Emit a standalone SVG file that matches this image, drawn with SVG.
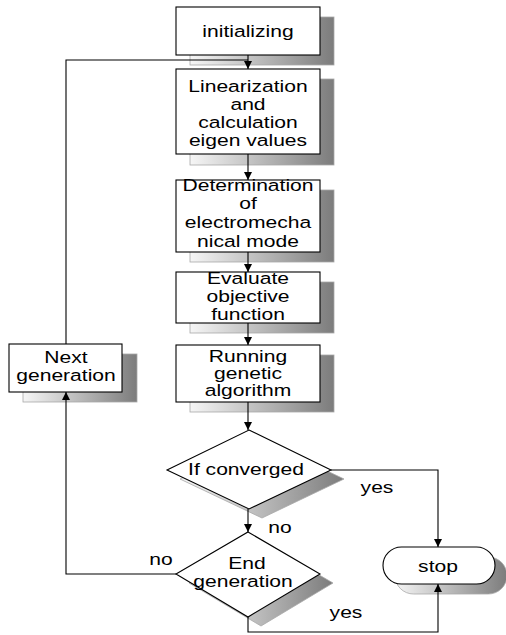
<svg xmlns="http://www.w3.org/2000/svg" width="506" height="635" viewBox="0 0 506 635">
<defs>
<linearGradient id="sh" x1="0" y1="0" x2="1" y2="0">
<stop offset="0" stop-color="#f6f6f6"/>
<stop offset="1" stop-color="#7c7c7c"/>
</linearGradient>
<marker id="ar" markerUnits="userSpaceOnUse" markerWidth="8" markerHeight="8" viewBox="0 0 8 8" refX="8" refY="4" orient="auto">
<path d="M0,0 L8,4 L0,8 Z" fill="#000"/>
</marker>
</defs>
<style>
.shd{fill:url(#sh);stroke:#a8a8a8;stroke-width:0.8}
.box{fill:#fff;stroke:#000;stroke-width:1.1}
.t{font-family:"Liberation Sans",Arial,sans-serif;font-size:17px;text-anchor:middle;fill:#000}
.ln{fill:none;stroke:#000;stroke-width:1.1}
</style>
<rect width="506" height="635" fill="#fff"/>

<g id="initializing">
<rect class="shd" x="190" y="17" width="144" height="48"/>
<rect class="box" x="176" y="7" width="144" height="48"/>
<text class="t" transform="translate(248 37) scale(1.24 1)">initializing</text>
</g>

<g id="linearization">
<rect class="shd" x="190" y="79" width="144" height="86"/>
<rect class="box" x="176" y="69" width="144" height="85"/>
<text class="t" transform="translate(248 92) scale(1.24 1)">Linearization</text>
<text class="t" transform="translate(248 110) scale(1.24 1)">and</text>
<text class="t" transform="translate(248 128) scale(1.24 1)">calculation</text>
<text class="t" transform="translate(248 146) scale(1.24 1)">eigen values</text>
</g>

<g id="determination">
<rect class="shd" x="190" y="190" width="144" height="72"/>
<rect class="box" x="176" y="180" width="144" height="72"/>
<text class="t" transform="translate(248 191) scale(1.24 1)">Determination</text>
<text class="t" transform="translate(248 209) scale(1.24 1)">of</text>
<text class="t" transform="translate(248 228) scale(1.24 1)">electromecha</text>
<text class="t" transform="translate(248 247) scale(1.24 1)">nical mode</text>
</g>

<g id="evaluate">
<rect class="shd" x="190" y="282" width="144" height="51"/>
<rect class="box" x="176" y="272" width="144" height="51"/>
<text class="t" transform="translate(248 284) scale(1.24 1)">Evaluate</text>
<text class="t" transform="translate(248 302) scale(1.24 1)">objective</text>
<text class="t" transform="translate(248 320) scale(1.24 1)">function</text>
</g>

<g id="running">
<rect class="shd" x="190" y="355" width="144" height="57"/>
<rect class="box" x="176" y="345" width="144" height="57"/>
<text class="t" transform="translate(248 362) scale(1.24 1)">Running</text>
<text class="t" transform="translate(248 379) scale(1.24 1)">genetic</text>
<text class="t" transform="translate(248 396) scale(1.24 1)">algorithm</text>
</g>

<g id="next-generation">
<rect class="shd" x="23" y="354" width="114" height="48"/>
<rect class="box" x="9" y="344" width="113" height="48"/>
<text class="t" transform="translate(66 363) scale(1.24 1)">Next</text>
<text class="t" transform="translate(66 381) scale(1.24 1)">generation</text>
</g>

<g id="if-converged">
<polygon class="shd" points="262,440 344,479 262,518 180,479"/>
<polygon class="box" points="249,430 331,470 249,509 167,470"/>
<text class="t" transform="translate(246 475) scale(1.24 1)">If converged</text>
</g>

<g id="end-generation">
<polygon class="shd" points="261,541 333,583 261,626 189,583"/>
<polygon class="box" points="248,532 320,574 248,617 176,574"/>
<text class="t" transform="translate(247 569) scale(1.24 1)">End</text>
<text class="t" transform="translate(243 587) scale(1.24 1)">generation</text>
</g>

<g id="stop">
<rect class="shd" x="395" y="557" width="112" height="37" rx="18.5"/>
<rect class="box" x="383" y="547" width="112" height="37" rx="18.5"/>
<text class="t" transform="translate(438 572) scale(1.24 1)">stop</text>
</g>

<g id="connectors">
<line class="ln" x1="248" y1="55" x2="248" y2="69" marker-end="url(#ar)"/>
<line class="ln" x1="248" y1="154" x2="248" y2="180" marker-end="url(#ar)"/>
<line class="ln" x1="248" y1="252" x2="248" y2="272" marker-end="url(#ar)"/>
<line class="ln" x1="248" y1="323" x2="248" y2="345" marker-end="url(#ar)"/>
<line class="ln" x1="248" y1="402" x2="248" y2="430" marker-end="url(#ar)"/>
<line class="ln" x1="248" y1="509" x2="248" y2="532" marker-end="url(#ar)"/>
<polyline class="ln" points="331,470 438,470 438,547" marker-end="url(#ar)"/>
<polyline class="ln" points="248,617 248,632 438,632 438,584" marker-end="url(#ar)"/>
<polyline class="ln" points="176,574 66,574 66,392" marker-end="url(#ar)"/>
<polyline class="ln" points="66,344 66,60 248,60"/>
<text class="t" transform="translate(377 493) scale(1.24 1)">yes</text>
<text class="t" transform="translate(280 533) scale(1.24 1)">no</text>
<text class="t" transform="translate(346 618) scale(1.24 1)">yes</text>
<text class="t" transform="translate(161 565) scale(1.24 1)">no</text>
</g>
</svg>
